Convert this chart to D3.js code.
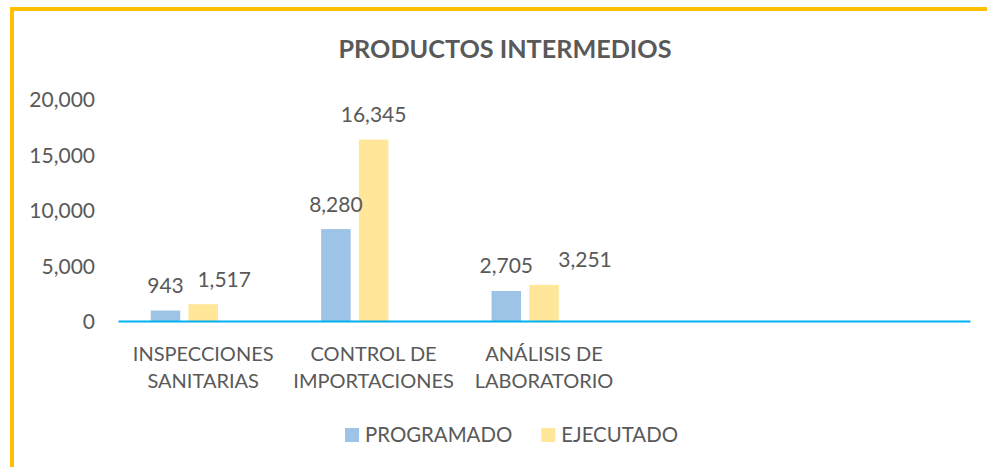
<!DOCTYPE html>
<html>
<head>
<meta charset="utf-8">
<script src="https://cdn.jsdelivr.net/npm/d3@7"></script>
<style>
    html, body { margin: 0; padding: 0; background: #fff; overflow: hidden; }
    text { font-family: Lato, 'Open Sans', sans-serif; fill: #595959; }
</style>
</head>
<body>
<div id="chart"></div>
<script>
'use strict';

// Data
const categories = ['INSPECCIONES SANITARIAS', 'CONTROL DE IMPORTACIONES', 'ANÁLISIS DE LABORATORIO'];
const categoryLines = [['INSPECCIONES', 'SANITARIAS'], ['CONTROL DE', 'IMPORTACIONES'], ['ANÁLISIS DE', 'LABORATORIO']];
const seriesNames = ['PROGRAMADO', 'EJECUTADO'];
const programado = [943, 8280, 2705];
const ejecutado = [1517, 16345, 3251];
const yTicks = [0, 5000, 10000, 15000, 20000];
const seriesColors = ['#9DC3E6', '#FFE699'];

class BarChart {

    constructor(_ref) {
        this.parent = _ref;
        this.initVis();
    }

    initVis() {
        // Get this vis
        const vis = this;

        // Config
        vis.w = 987;
        vis.h = 467;

        vis.svg = d3.select(`#${vis.parent}`)
            .append('svg')
            .attr('width', vis.w)
            .attr('height', vis.h);

        // Frame (runs off the right and bottom edge)
        vis.svg.append('rect')
            .attr('x', 12)
            .attr('y', 9)
            .attr('width', vis.w + 20)
            .attr('height', vis.h + 20)
            .attr('fill', '#fff')
            .attr('stroke', '#FFC000')
            .attr('stroke-width', 4);

        // Title
        vis.svg.append('text')
            .attr('x', 505)
            .attr('y', 58)
            .attr('text-anchor', 'middle')
            .style('font-size', '25.2px')
            .style('font-weight', 'bold')
            .text('PRODUCTOS INTERMEDIOS');

        // Plot area
        vis.plot = {left: 118, right: 970, top: 99, bottom: 321};

        // Five category slots, only three used
        vis.xScale = d3.scaleBand()
            .domain(d3.range(5))
            .range([vis.plot.left, vis.plot.right]);

        // Three series slots per category, last one empty
        vis.x1Scale = d3.scaleBand()
            .domain([...seriesNames, ''])
            .range([0, vis.xScale.bandwidth()])
            .paddingInner(0.2175)
            .paddingOuter(0.869);

        vis.yScale = d3.scaleLinear()
            .domain([0, 20000])
            .range([vis.plot.bottom, vis.plot.top]);

        // Labels nudged sideways by hand in the original
        vis.labelDx = {'EJECUTADO-0': 21, 'EJECUTADO-2': 41};

        vis.gBars = vis.svg.append('g').attr('class', 'bars');
        vis.gLabels = vis.svg.append('g').attr('class', 'labels');

        vis.wrangleData();
    }

    wrangleData() {
        const vis = this;

        vis.rows = [];
        categories.forEach((c, i) => {
            vis.rows.push({cat: i, series: seriesNames[0], value: programado[i], color: seriesColors[0]});
            vis.rows.push({cat: i, series: seriesNames[1], value: ejecutado[i], color: seriesColors[1]});
        });

        vis.updateVis();
    }

    updateVis() {
        const vis = this;
        const fmt = d3.format(',');

        // Y axis
        const yAxis = vis.svg.append('g')
            .attr('transform', `translate(${vis.plot.left - 23},0)`)
            .call(d3.axisLeft(vis.yScale).tickValues(yTicks).tickFormat(fmt).tickSize(0).tickPadding(0));
        yAxis.select('.domain').remove();
        yAxis.selectAll('text')
            .attr('fill', null)
            .style('font-size', '21px')
            .attr('dy', '0.36em');

        // Bars
        vis.gBars.selectAll('.bar')
            .data(vis.rows)
            .join('rect')
            .attr('class', 'bar')
            .attr('x', d => vis.xScale(d.cat) + vis.x1Scale(d.series))
            .attr('width', vis.x1Scale.bandwidth())
            .attr('y', d => vis.yScale(d.value))
            .attr('height', d => vis.yScale(0) - vis.yScale(d.value))
            .attr('fill', d => d.color);

        // Value labels
        vis.gLabels.selectAll('.val')
            .data(vis.rows)
            .join('text')
            .attr('class', 'val')
            .attr('x', d => vis.xScale(d.cat) + vis.x1Scale(d.series) + vis.x1Scale.bandwidth() / 2
                + (vis.labelDx[`${d.series}-${d.cat}`] || 0))
            .attr('y', d => vis.yScale(d.value) - 17.5)
            .attr('text-anchor', 'middle')
            .style('font-size', '21px')
            .text(d => fmt(d.value));

        // X axis
        const xAxis = vis.svg.append('g')
            .attr('transform', `translate(0,${vis.plot.bottom})`)
            .call(d3.axisBottom(vis.xScale).tickSize(0).tickSizeOuter(0).tickFormat(''));
        xAxis.select('.domain')
            .attr('stroke', '#00B0F0')
            .attr('stroke-width', 2);

        xAxis.selectAll('.tick').each(function(d) {
            const lines = categoryLines[d];
            const t = d3.select(this).select('text')
                .attr('fill', null)
                .attr('y', 0)
                .attr('dy', null)
                .style('font-size', '20px');
            if (!lines) return;
            lines.forEach((line, j) => {
                t.append('tspan')
                    .attr('x', 0)
                    .attr('y', 40 + j * 27)
                    .text(line);
            });
        });

        // Legend
        const legend = vis.svg.append('g')
            .attr('transform', 'translate(345,428)');
        let offset = 0;
        seriesNames.forEach((name, i) => {
            const item = legend.append('g')
                .attr('transform', `translate(${offset},0)`);
            item.append('rect')
                .attr('width', 14)
                .attr('height', 14)
                .attr('fill', seriesColors[i]);
            const txt = item.append('text')
                .attr('x', 20)
                .attr('y', 14)
                .style('font-size', '20.4px')
                .text(name);
            offset += 20 + txt.node().getComputedTextLength() + 29;
        });
    }
}

new BarChart('chart');
</script>
</body>
</html>
